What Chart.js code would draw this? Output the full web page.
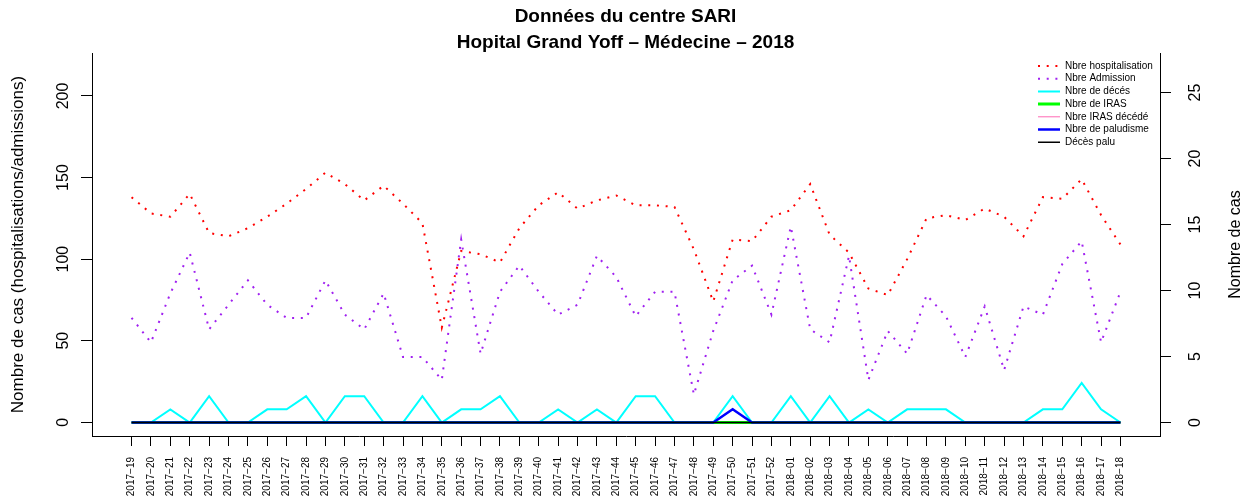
<!DOCTYPE html>
<html><head><meta charset="utf-8">
<script src="https://cdn.jsdelivr.net/npm/chart.js@4.4.1/dist/chart.umd.min.js"></script>
<style>html,body{margin:0;padding:0;background:#fff;overflow:hidden}</style>
</head><body>
<canvas id="c" width="1251" height="504" style="display:block;width:1251px;height:504px"></canvas>
<script>
const weeks = ['2017\u221219','2017\u221220','2017\u221221','2017\u221222','2017\u221223','2017\u221224','2017\u221225','2017\u221226','2017\u221227','2017\u221228','2017\u221229','2017\u221230','2017\u221231','2017\u221232','2017\u221233','2017\u221234','2017\u221235','2017\u221236','2017\u221237','2017\u221238','2017\u221239','2017\u221240','2017\u221241','2017\u221242','2017\u221243','2017\u221244','2017\u221245','2017\u221246','2017\u221247','2017\u221248','2017\u221249','2017\u221250','2017\u221251','2017\u221252','2018\u221201','2018\u221202','2018\u221203','2018\u221204','2018\u221205','2018\u221206','2018\u221207','2018\u221208','2018\u221209','2018\u221210','2018\u221211','2018\u221212','2018\u221213','2018\u221214','2018\u221215','2018\u221216','2018\u221217','2018\u221218'];
const hospitalisations = [138,128,126,140,116,114,119,126,134,143,153,146,136,145,134,122,58,105,103,98,119,133,141,131,136,139,133,133,132,106,74,112,111,126,130,146,115,104,82,78,100,125,127,124,131,126,114,138,137,149,127,109];
const admissions = [64,49,79,104,57,72,87,72,64,64,87,66,57,79,40,40,26,112,42,80,96,80,66,72,102,89,65,80,80,17,56,87,96,66,120,57,49,102,26,56,42,78,65,40,71,32,71,66,97,111,49,80];
const deces = [0,0,1,0,2,0,0,1,1,2,0,2,2,0,0,2,0,1,1,2,0,0,1,0,1,0,2,2,0,0,0,2,0,0,2,0,2,0,1,0,1,1,1,0,0,0,0,1,1,3,1,0];
const iras = [0,0,0,0,0,0,0,0,0,0,0,0,0,0,0,0,0,0,0,0,0,0,0,0,0,0,0,0,0,0,0,0,0,0,0,0,0,0,0,0,0,0,0,0,0,0,0,0,0,0,0,0];
const irasDecede = [0,0,0,0,0,0,0,0,0,0,0,0,0,0,0,0,0,0,0,0,0,0,0,0,0,0,0,0,0,0,0,0,0,0,0,0,0,0,0,0,0,0,0,0,0,0,0,0,0,0,0,0];
const paludisme = [0,0,0,0,0,0,0,0,0,0,0,0,0,0,0,0,0,0,0,0,0,0,0,0,0,0,0,0,0,0,0,1,0,0,0,0,0,0,0,0,0,0,0,0,0,0,0,0,0,0,0,0];
const decesPalu = [0,0,0,0,0,0,0,0,0,0,0,0,0,0,0,0,0,0,0,0,0,0,0,0,0,0,0,0,0,0,0,0,0,0,0,0,0,0,0,0,0,0,0,0,0,0,0,0,0,0,0,0];
const leftTicks = [0,50,100,150,200];
const rightTicks = [0,5,10,15,20,25];
const titleLines = ['Donn\u00e9es du centre SARI','Hopital Grand Yoff \u2013 M\u00e9decine \u2013 2018'];
const leftTitle = 'Nombre de cas (hospitalisations/admissions)';
const rightTitle = 'Nombre de cas';

const FAM = '"Liberation Sans", Arial, Helvetica, sans-serif';
const pts = arr => arr.map((v, i) => ({x: i, y: v}));
const mk = (label, arr, axis, color, width, dash, order) => ({
  label, data: pts(arr), yAxisID: axis, borderColor: color, backgroundColor: color,
  borderWidth: width, borderDash: dash, borderCapStyle: 'butt', pointRadius: 0,
  tension: 0, fill: false, order
});

const axisLabels = {
  id: 'axisLabels',
  afterLayout(chart) {
    const lg = chart.legend;
    if (lg) { lg.left = 1035.3; lg.top = 58.3; lg.right = 1250; lg.bottom = 250; lg.width = 214; lg.height = 191; }
  },
  afterDraw(chart) {
    const ctx = chart.ctx;
    const yl = chart.scales.y, yr = chart.scales.y1;
    ctx.save();
    ctx.fillStyle = '#000';
    ctx.font = '16px ' + FAM;
    ctx.textAlign = 'center';
    ctx.textBaseline = 'alphabetic';
    leftTicks.forEach(v => {
      ctx.save(); ctx.translate(68, yl.getPixelForValue(v)); ctx.rotate(-Math.PI / 2);
      ctx.fillText(String(v), 0, 0); ctx.restore();
    });
    rightTicks.forEach(v => {
      ctx.save(); ctx.translate(1200, yr.getPixelForValue(v)); ctx.rotate(-Math.PI / 2);
      ctx.fillText(String(v), 0, 0); ctx.restore();
    });
    ctx.textBaseline = 'middle';
    ctx.save(); ctx.translate(1236, (chart.chartArea.top + chart.chartArea.bottom) / 2); ctx.rotate(-Math.PI / 2);
    ctx.fillText(rightTitle, 0, 0); ctx.restore();
    ctx.restore();
  }
};

new Chart(document.getElementById('c'), {
  type: 'line',
  data: {
    datasets: [
      mk('Nbre hospitalisation', hospitalisations, 'y', '#FF0000', 2, [2, 6.7], 7),
      mk('Nbre Admission', admissions, 'y', '#A020F0', 2, [2, 6.7], 6),
      mk('Nbre de d\u00e9c\u00e9s', deces, 'y1', '#00FFFF', 2, [], 5),
      mk('Nbre de IRAS', iras, 'y1', '#00FF00', 3, [], 4),
      mk('Nbre IRAS d\u00e9c\u00e9d\u00e9', irasDecede, 'y1', '#FF69B4', 1, [], 3),
      mk('Nbre de paludisme', paludisme, 'y1', '#0000FF', 2.5, [], 2),
      mk('D\u00e9c\u00e8s palu', decesPalu, 'y1', '#000000', 1.5, [], 1)
    ]
  },
  options: {
    responsive: false, animation: false, devicePixelRatio: 1,
    layout: {padding: 0},
    plugins: {
      tooltip: {enabled: false},
      title: {
        display: true, text: titleLines, color: '#000',
        font: {family: FAM, size: 19, weight: 'bold', lineHeight: '26px'},
        padding: {top: 4, bottom: -3}
      },
      legend: {
        display: true, position: 'chartArea', align: 'start',
        labels: {
          usePointStyle: true, pointStyle: 'line', pointStyleWidth: 22, boxHeight: 10,
          padding: 2.7, color: '#000', font: {family: FAM, size: 10},
          generateLabels: (chart) => chart.data.datasets.map((ds, i) => ({
            text: ds.label, fillStyle: ds.borderColor, strokeStyle: ds.borderColor,
            lineWidth: ds.borderWidth, lineDash: ds.borderDash || [], lineCap: 'butt',
            pointStyle: 'line', hidden: false, datasetIndex: i, fontColor: '#000'
          }))
        }
      }
    },
    scales: {
      x: {
        type: 'linear', min: -2.04, max: 53.04,
        afterBuildTicks: s => { s.ticks = weeks.map((w, i) => ({value: i})); },
        afterFit: s => { s.height = 68; },
        grid: {drawOnChartArea: false, drawTicks: true, tickLength: 10, color: '#000', lineWidth: 1},
        border: {display: true, color: '#000', width: 1},
        ticks: {autoSkip: false, minRotation: 90, maxRotation: 90, padding: 11, color: '#000',
          font: {family: FAM, size: 10}, callback: v => weeks[Math.round(v)]}
      },
      y: {
        type: 'linear', position: 'left', min: -8.4, max: 226.35,
        afterBuildTicks: s => { s.ticks = leftTicks.map(v => ({value: v})); },
        afterFit: s => { s.width = 92; },
        grid: {drawOnChartArea: false, drawTicks: true, tickLength: 11, color: '#000', lineWidth: 1},
        border: {display: true, color: '#000', width: 1},
        ticks: {display: false},
        title: {display: true, text: leftTitle, color: '#000', font: {family: FAM, size: 17},
          padding: {top: 7.8, bottom: 0}}
      },
      y1: {
        type: 'linear', position: 'right', min: -1.02, max: 28,
        afterBuildTicks: s => { s.ticks = rightTicks.map(v => ({value: v})); },
        afterFit: s => { s.width = 91; },
        grid: {drawOnChartArea: false, drawTicks: true, tickLength: 11, color: '#000', lineWidth: 1},
        border: {display: true, color: '#000', width: 1},
        ticks: {display: false}
      }
    }
  },
  plugins: [axisLabels]
});
</script>
</body></html>
